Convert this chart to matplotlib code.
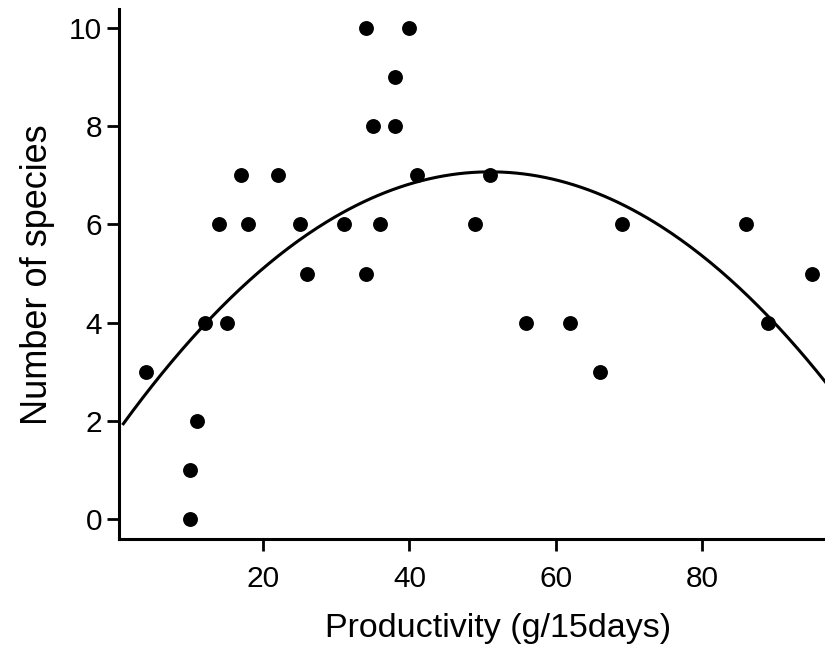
import matplotlib

matplotlib.use("Agg")
import matplotlib.pyplot as plt
import numpy as np

plt.rcParams["font.family"] = ["Liberation Sans", "DejaVu Sans"]

# productivity (g/15days) and number of species
productivity = [4, 10, 10, 11, 12, 14, 15, 17, 18, 22, 25, 26, 31, 34, 34,
                35, 36, 38, 38, 40, 41, 49, 51, 56, 62, 66, 69, 86, 89, 95]
species = [3, 1, 0, 2, 4, 6, 4, 7, 6, 7, 6, 5, 6, 10, 5,
           8, 6, 9, 8, 10, 7, 6, 7, 4, 4, 3, 6, 6, 4, 5]

x_ticks = [20, 40, 60, 80]
y_ticks = [0, 2, 4, 6, 8, 10]

fig = plt.figure(figsize=(8.25, 6.45), dpi=100)
ax = fig.add_axes([0.1442, 0.1643, 0.8558, 0.821])

# quadratic fit through the points
coef = np.polyfit(productivity, species, 2)
xs = np.linspace(0.9, 100, 300)
ax.plot(xs, np.polyval(coef, xs), color="black", lw=2.2, zorder=2)

ax.scatter(productivity, species, s=115, color="black", zorder=3,
           linewidths=0)

ax.set_xlim(0.3, 96.8)
ax.set_ylim(-0.41, 10.38)
ax.set_xticks(x_ticks)
ax.set_yticks(y_ticks)

for side in ["top", "right"]:
    ax.spines[side].set_visible(False)
for side in ["left", "bottom"]:
    ax.spines[side].set_linewidth(2.2)

ax.tick_params(axis="both", width=2.0, length=8.5, labelsize=21.5)
ax.tick_params(axis="x", pad=10)
ax.tick_params(axis="y", pad=3.5)

ax.set_xlabel("Productivity (g/15days)", fontsize=24.5)
ax.xaxis.set_label_coords(0.537, -0.14)
ax.set_ylabel("Number of species", fontsize=26, labelpad=10)

fig.savefig("out.png", dpi=100)
